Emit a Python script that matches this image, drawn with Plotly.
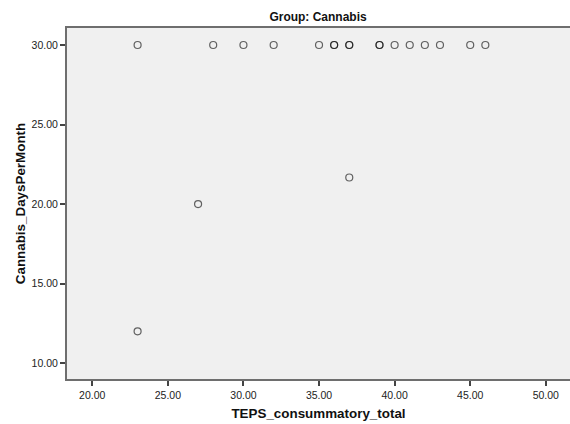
import plotly.graph_objects as go

# Data (overlapping points repeated)
teps_total = [23, 28, 30, 32, 35, 36, 36, 37, 37, 39, 39, 40, 41, 42, 43, 45, 46, 27, 37, 23]
cannabis_days = [30, 30, 30, 30, 30, 30, 30, 30, 30, 30, 30, 30, 30, 30, 30, 30, 30, 20, 21.67, 12]

x_ticks = [20, 25, 30, 35, 40, 45, 50]
y_ticks = [10, 15, 20, 25, 30]

FONT = "Liberation Sans, Arial, sans-serif"

fig = go.Figure()
fig.add_trace(go.Scatter(
    x=teps_total, y=cannabis_days, mode="markers",
    marker=dict(symbol="circle-open", size=7, color="rgba(0,0,0,0.6)",
                line=dict(width=1.2, color="rgba(0,0,0,0.6)")),
    hoverinfo="x+y", showlegend=False,
))

axis_common = dict(
    showgrid=False, zeroline=False, showline=True, linecolor="#6e6e6e", linewidth=2,
    ticks="outside", ticklen=5, tickwidth=1.5, tickcolor="#444444",
    tickfont=dict(family=FONT, size=10.5, color="#222222"),
)

fig.update_layout(
    width=570, height=424,
    margin=dict(l=67, r=0, t=28, b=45),
    paper_bgcolor="white", plot_bgcolor="#f0f0f0",
    title=dict(text="<b>Group: Cannabis</b>", x=0.558, xanchor="center", y=0.961, yanchor="middle",
               font=dict(family=FONT, size=12, color="#111111")),
    xaxis=dict(range=[18.33, 51.6], tickvals=x_ticks, ticktext=[f"{v:.2f}" for v in x_ticks],
               mirror=True,
               title=dict(text="<b>TEPS_consummatory_total</b>", standoff=9,
                          font=dict(family=FONT, size=13.4, color="#111111")),
               **axis_common),
    yaxis=dict(range=[9.0, 31.07], tickvals=y_ticks, ticktext=[f"{v:.2f}" for v in y_ticks],
               title=dict(text="<b>Cannabis_DaysPerMonth</b>", standoff=3,
                          font=dict(family=FONT, size=13.4, color="#111111")),
               **axis_common),
)

fig.write_html("out.html", config={"displayModeBar": False},
               post_script="document.body.style.margin='0';document.body.style.overflow='hidden';")
